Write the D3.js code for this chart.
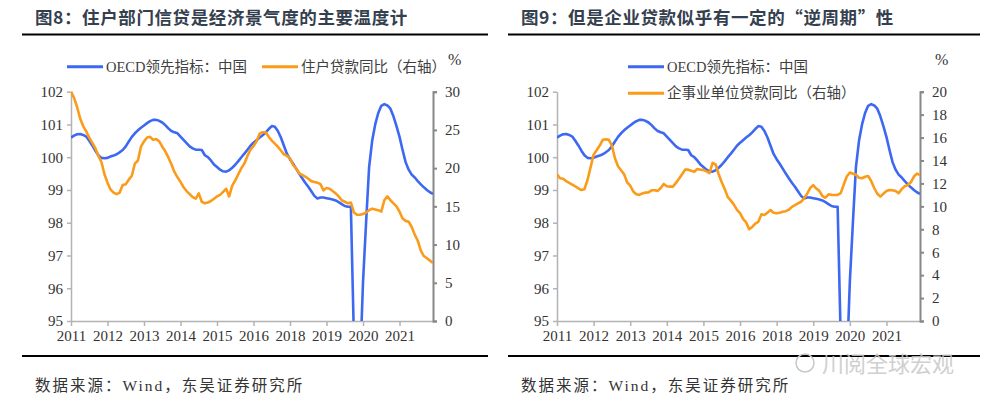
<!DOCTYPE html>
<html><head><meta charset="utf-8">
<script src="https://cdn.jsdelivr.net/npm/d3@7"></script>
<style>
html,body{margin:0;padding:0;background:#fff;}
svg{display:block;}
.serif{font-family:"Liberation Serif","Times New Roman","Noto Sans CJK SC",serif;}
.cjk{font-family:"Noto Sans CJK SC","Noto Sans",sans-serif;}
</style></head>
<body>
<svg id="c" width="1000" height="404"></svg>
<script>
// ---------- data ----------
const xTickLabels = ["2011","2012","2013","2014","2015","2016","2018","2019","2020","2021"];
const leftTicks = [95,96,97,98,99,100,101,102];
const rightTicks8 = [0,5,10,15,20,25,30];
const rightTicks9 = [0,2,4,6,8,10,12,14,16,18,20];

const oecdChina = [
100.60,100.66,100.70,100.71,100.68,100.63,100.50,100.36,100.20,100.06,
99.98,99.97,99.98,100.02,100.05,100.09,100.15,100.22,100.33,100.48,
100.62,100.73,100.82,100.90,100.97,101.04,101.10,101.14,101.14,101.11,
101.06,100.98,100.88,100.80,100.76,100.73,100.63,100.53,100.43,100.33,
100.27,100.23,100.23,100.22,100.06,100.00,99.90,99.78,99.70,99.62,
99.57,99.56,99.60,99.68,99.77,99.88,100.00,100.11,100.23,100.35,
100.44,100.52,100.60,100.67,100.76,100.86,100.95,100.93,100.80,100.60,
100.35,100.10,99.94,99.80,99.65,99.50,99.36,99.22,99.10,98.96,
98.82,98.74,98.77,98.77,98.75,98.73,98.71,98.68,98.63,98.57,
98.51,98.49,98.49,94.50,92.50,93.60,96.20,98.00,99.70,100.50,
101.00,101.35,101.57,101.62,101.58,101.48,101.25,100.95,100.62,100.22,
99.85,99.62,99.47,99.38,99.27,99.17,99.08,99.00,98.93,98.88];

const householdLoanYoY = [
30.0,29.2,28.0,26.5,25.5,24.8,24.0,23.3,22.6,21.6,
20.8,19.2,18.1,17.2,16.8,16.6,16.8,17.8,17.9,18.5,
19.0,20.6,21.0,22.8,23.5,24.0,24.1,23.7,23.8,23.5,
22.8,22.2,21.4,20.5,19.5,18.8,18.2,17.5,17.0,16.6,
16.2,16.0,16.7,15.6,15.4,15.5,15.7,16.0,16.3,16.5,
16.9,17.3,16.3,17.7,18.4,19.2,20.0,20.6,21.6,22.4,
22.9,23.5,24.5,24.7,24.7,24.1,23.6,23.2,22.8,22.3,
21.8,21.6,21.3,20.4,20.0,19.3,19.1,18.9,18.6,18.3,
18.2,18.1,17.9,17.1,17.4,17.3,17.0,16.7,16.3,15.8,
15.6,15.4,15.5,14.2,13.9,13.9,14.0,14.2,14.5,14.7,
14.6,14.5,14.3,15.8,16.3,15.8,15.4,15.0,14.3,13.4,
13.1,13.0,12.3,11.3,10.5,9.2,8.5,8.2,7.9,7.6];

const corporateLoanYoY = [
12.8,12.45,12.4,12.2,12.05,11.9,11.75,11.57,11.42,11.5,
12.3,13.4,14.5,14.9,15.3,15.8,15.85,15.8,15.3,14.2,
13.5,13.15,12.8,12.1,11.8,11.3,11.05,11.0,11.13,11.2,
11.22,11.4,11.4,11.35,11.6,11.95,11.75,11.72,11.72,12.05,
12.4,12.8,13.2,13.2,13.1,13.02,13.25,13.2,13.17,13.05,
12.9,13.8,13.65,12.8,12.1,11.5,10.8,10.5,10.15,9.7,
9.4,8.9,8.6,8.0,8.2,8.5,8.65,9.3,9.25,9.45,
9.68,9.45,9.4,9.45,9.53,9.58,9.7,9.95,10.1,10.26,
10.4,10.7,11.1,11.6,11.85,11.55,11.35,10.9,10.75,11.05,
11.0,10.99,11.0,11.15,11.9,12.6,12.95,12.85,12.75,12.5,
12.45,12.58,12.65,12.2,11.6,11.1,10.85,11.1,11.34,11.42,
11.4,11.34,11.15,11.5,11.75,11.86,12.1,12.6,12.85,12.73];

const titles = ["图8：住户部门信贷是经济景气度的主要温度计", "图9：但是企业贷款似乎有一定的“逆周期”性"];
const legendBlue = "OECD领先指标：中国";
const legendOrange = ["住户贷款同比（右轴）", "企事业单位贷款同比（右轴）"];
const sourceText = "数据来源：Wind，东吴证券研究所";
const watermark = "川阅全球宏观";

// ---------- drawing ----------
const svg = d3.select("#c");
const BLUE = "#3d68f2", ORANGE = "#fb9b1a";

function panel(o) {
  const g = svg.append("g");
  // title
  g.append("text").attr("class", "cjk").attr("x", o.titleX).attr("y", 24)
    .attr("font-weight", "bold").attr("font-size", 17.5)
    .attr("fill", "#35404f").attr("letter-spacing", 0.6).text(o.title);
  g.append("line").attr("x1", o.lineX1).attr("x2", o.lineX2).attr("y1", 34.5).attr("y2", 34.5)
    .attr("stroke", "#000").attr("stroke-width", 2);
  g.append("line").attr("x1", o.lineX1).attr("x2", o.lineX2).attr("y1", 356).attr("y2", 356)
    .attr("stroke", "#000").attr("stroke-width", 2);
  g.append("text").attr("class", "serif").attr("x", o.titleX).attr("y", 391)
    .attr("font-size", 15.5).attr("letter-spacing", 2).attr("fill", "#333").text(sourceText);

  const x = d3.scaleLinear().domain([0, oecdChina.length - 1]).range([o.left, o.right]);
  const yL = d3.scaleLinear().domain([95, 102]).range([o.bottom, o.top]);
  const yR = d3.scaleLinear().domain([0, o.rMax]).range([o.bottom, o.top]);

  const clipId = "clip" + o.id;
  svg.append("clipPath").attr("id", clipId).append("rect")
    .attr("x", o.left).attr("y", o.top - 10).attr("width", o.right - o.left).attr("height", o.bottom - o.top + 10);

  // axes
  const xAxis = d3.axisBottom(x).tickValues(xTickLabels.map((d, i) => i * 12))
    .tickFormat((d, i) => xTickLabels[i]).tickSize(5).tickSizeOuter(0);
  const gx = g.append("g").attr("transform", `translate(0,${o.bottom})`).call(xAxis);
  gx.attr("font-family", null);
  gx.select(".domain").attr("stroke", "#b3b3b3").attr("stroke-width", 1.5);
  gx.selectAll(".tick line").attr("stroke", "#b3b3b3").attr("stroke-width", 1.5);
  gx.selectAll(".tick text").attr("class", "serif").attr("font-size", 15).attr("fill", "#333").attr("dy", "0.95em").attr("y", 6);

  const gl = g.append("g").attr("transform", `translate(${o.left},0)`)
    .call(d3.axisLeft(yL).tickValues(leftTicks).tickFormat(d3.format("d")).tickSize(4).tickSizeOuter(0).tickPadding(4));
  gl.attr("font-family", null);
  gl.select(".domain").attr("stroke", "#b3b3b3").attr("stroke-width", 1.5);
  gl.selectAll(".tick line").attr("stroke", "#b3b3b3").attr("stroke-width", 1.5);
  gl.selectAll(".tick text").attr("class", "serif").attr("font-size", 15).attr("fill", "#333");

  const gr = g.append("g").attr("transform", `translate(${o.right},0)`)
    .call(d3.axisRight(yR).tickValues(o.rTicks).tickFormat(d3.format("d")).tickSize(4).tickSizeOuter(4).tickPadding(8));
  gr.attr("font-family", null);
  gr.select(".domain").attr("stroke", "#888").attr("stroke-width", 2);
  gr.selectAll(".tick line").attr("stroke", "#888").attr("stroke-width", 2);
  gr.selectAll(".tick text").attr("class", "serif").attr("font-size", 15).attr("fill", "#333");

  g.append("text").attr("class", "serif").attr("x", o.pctX).attr("y", 65)
    .attr("font-size", 16).attr("fill", "#333").text("%");

  // lines
  const lineL = d3.line().x((d, i) => x(i)).y(d => yL(d));
  const lineR = d3.line().x((d, i) => x(i)).y(d => yR(d));
  const lg = g.append("g").attr("clip-path", `url(#${clipId})`);
  lg.append("path").datum(oecdChina).attr("d", lineL).attr("fill", "none")
    .attr("stroke", BLUE).attr("stroke-width", 2.6).attr("stroke-linejoin", "round");
  lg.append("path").datum(o.orange).attr("d", lineR).attr("fill", "none")
    .attr("stroke", ORANGE).attr("stroke-width", 2.6).attr("stroke-linejoin", "round");

  // legend
  o.legend.forEach(l => {
    g.append("line").attr("x1", l.x).attr("x2", l.x + 36).attr("y1", l.y).attr("y2", l.y)
      .attr("stroke", l.color).attr("stroke-width", 3);
    g.append("text").attr("class", "serif").attr("x", l.x + 39).attr("y", l.y + 5)
      .attr("font-size", 14.5).attr("fill", "#404040").text(l.text);
  });
}

panel({
  id: 8, title: titles[0], titleX: 35, lineX1: 22, lineX2: 488,
  left: 71, right: 433, top: 91.7, bottom: 321, rMax: 30, rTicks: rightTicks8,
  orange: householdLoanYoY, pctX: 448,
  legend: [{x: 67, y: 66.7, color: BLUE, text: legendBlue},
           {x: 262, y: 66.7, color: ORANGE, text: legendOrange[0]}]
});
panel({
  id: 9, title: titles[1], titleX: 521, lineX1: 508, lineX2: 980,
  left: 557, right: 920, top: 91.7, bottom: 321, rMax: 20, rTicks: rightTicks9,
  orange: corporateLoanYoY, pctX: 935,
  legend: [{x: 628, y: 66.7, color: BLUE, text: legendBlue},
           {x: 628, y: 93.3, color: ORANGE, text: legendOrange[1]}]
});

// watermark
svg.append("text").attr("class", "cjk").attr("x", 822).attr("y", 372)
  .attr("font-size", 22).attr("fill", "#c8c8c8").attr("opacity", 0.85).text(watermark);
svg.append("circle").attr("cx", 805).attr("cy", 363).attr("r", 9).attr("fill", "none")
  .attr("stroke", "#c8c8c8").attr("stroke-width", 1.5);
</script>
</body></html>
